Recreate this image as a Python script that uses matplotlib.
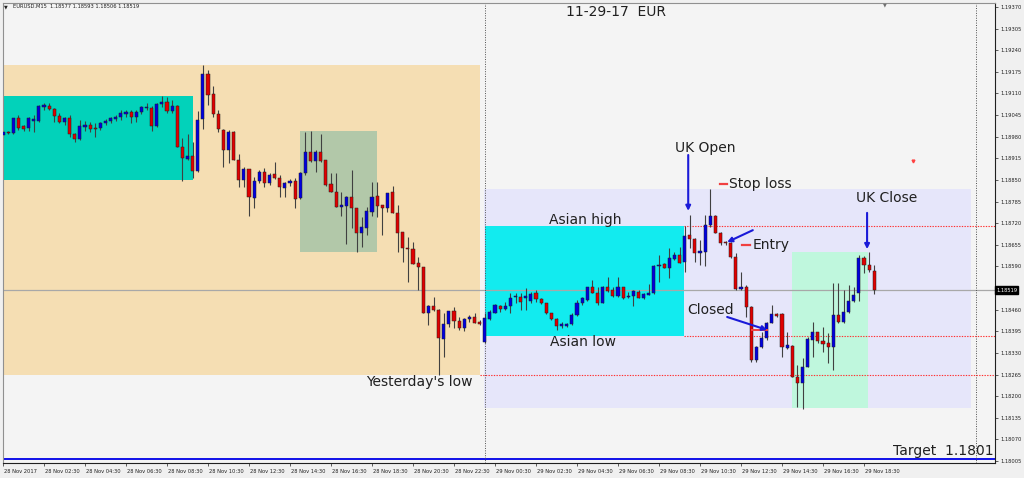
import matplotlib
matplotlib.use("Agg")
import matplotlib.pyplot as plt
from matplotlib.patches import Rectangle
import matplotlib.transforms as mtransforms
import numpy as np

# ---------------- data (EURUSD M15, bar 0 = 28 Nov 00:30) ----------------
opens = [1.18985, 1.18994, 1.18991, 1.19036, 1.19012, 1.19006, 1.19027, 1.19027, 1.19069, 1.19072,
         1.19063, 1.19042, 1.19024, 1.19036, 1.18988, 1.18973, 1.19009, 1.19015, 1.19006, 1.19006,
         1.19021, 1.19027, 1.19033, 1.19039, 1.19048, 1.19054, 1.19039, 1.19054, 1.19066, 1.19066,
         1.19012, 1.19078, 1.19084, 1.19057, 1.19072, 1.18949, 1.18913, 1.18922, 1.18877, 1.19033,
         1.19168, 1.19108, 1.19048, 1.19000, 1.18940, 1.18994, 1.18910, 1.18850, 1.18883, 1.18796,
         1.18847, 1.18874, 1.18841, 1.18868, 1.18856, 1.18826, 1.18841, 1.18847, 1.18796, 1.18871,
         1.18934, 1.18907, 1.18934, 1.18910, 1.18838, 1.18814, 1.18769, 1.18772, 1.18799, 1.18766,
         1.18690, 1.18705, 1.18754, 1.18802, 1.18775, 1.18766, 1.18814, 1.18751, 1.18693, 1.18642,
         1.18642, 1.18600, 1.18588, 1.18450, 1.18471, 1.18459, 1.18372, 1.18417, 1.18456, 1.18426,
         1.18405, 1.18432, 1.18438, 1.18423, 1.18363, 1.18432, 1.18450, 1.18471, 1.18462, 1.18471,
         1.18498, 1.18498, 1.18495, 1.18486, 1.18510, 1.18492, 1.18480, 1.18450, 1.18432, 1.18411,
         1.18411, 1.18417, 1.18444, 1.18480, 1.18489, 1.18528, 1.18510, 1.18480, 1.18528, 1.18519,
         1.18501, 1.18528, 1.18498, 1.18501, 1.18513, 1.18495, 1.18504, 1.18510, 1.18591, 1.18597,
         1.18585, 1.18612, 1.18624, 1.18603, 1.18684, 1.18672, 1.18630, 1.18633, 1.18714, 1.18742,
         1.18690, 1.18663, 1.18660, 1.18618, 1.18522, 1.18528, 1.18468, 1.18308, 1.18348, 1.18375,
         1.18420, 1.18447, 1.18447, 1.18345, 1.18351, 1.18257, 1.18239, 1.18287, 1.18369, 1.18393,
         1.18366, 1.18360, 1.18348, 1.18444, 1.18423, 1.18453, 1.18486, 1.18510, 1.18615, 1.18594,
         1.18577]
highs = [1.19000, 1.18997, 1.19037, 1.19045, 1.19015, 1.19039, 1.19045, 1.19075, 1.19081, 1.19081,
         1.19066, 1.19051, 1.19039, 1.19045, 1.18991, 1.19030, 1.19027, 1.19024, 1.19021, 1.19024,
         1.19033, 1.19039, 1.19045, 1.19060, 1.19060, 1.19060, 1.19060, 1.19072, 1.19081, 1.19072,
         1.19081, 1.19102, 1.19099, 1.19090, 1.19075, 1.18976, 1.18988, 1.18964, 1.19057, 1.19196,
         1.19181, 1.19132, 1.19060, 1.19003, 1.19000, 1.18997, 1.18928, 1.18889, 1.18883, 1.18859,
         1.18880, 1.18886, 1.18871, 1.18904, 1.18865, 1.18844, 1.18853, 1.18856, 1.18874, 1.18994,
         1.18997, 1.18940, 1.18988, 1.18910, 1.18871, 1.18871, 1.18814, 1.18802, 1.18880, 1.18766,
         1.18738, 1.18769, 1.18844, 1.18844, 1.18775, 1.18811, 1.18832, 1.18775, 1.18693, 1.18678,
         1.18663, 1.18618, 1.18588, 1.18474, 1.18498, 1.18462, 1.18450, 1.18456, 1.18468, 1.18438,
         1.18435, 1.18444, 1.18450, 1.18429, 1.18450, 1.18459, 1.18477, 1.18474, 1.18483, 1.18510,
         1.18510, 1.18510, 1.18525, 1.18513, 1.18519, 1.18495, 1.18480, 1.18450, 1.18435, 1.18423,
         1.18420, 1.18450, 1.18489, 1.18498, 1.18528, 1.18549, 1.18528, 1.18531, 1.18558, 1.18528,
         1.18558, 1.18528, 1.18513, 1.18519, 1.18519, 1.18510, 1.18537, 1.18594, 1.18624, 1.18600,
         1.18645, 1.18633, 1.18648, 1.18711, 1.18745, 1.18675, 1.18669, 1.18745, 1.18823, 1.18745,
         1.18693, 1.18666, 1.18663, 1.18630, 1.18573, 1.18534, 1.18471, 1.18351, 1.18393, 1.18423,
         1.18474, 1.18450, 1.18450, 1.18393, 1.18354, 1.18293, 1.18315, 1.18378, 1.18423, 1.18393,
         1.18408, 1.18390, 1.18540, 1.18540, 1.18519, 1.18534, 1.18528, 1.18624, 1.18621, 1.18633,
         1.18593]
lows = [1.18979, 1.18988, 1.18988, 1.19000, 1.18997, 1.18997, 1.18994, 1.19024, 1.19060, 1.19060,
        1.19024, 1.19021, 1.19015, 1.18979, 1.18964, 1.18970, 1.18997, 1.18994, 1.18979, 1.19000,
        1.19015, 1.19021, 1.19027, 1.19030, 1.19039, 1.19021, 1.19024, 1.19048, 1.19060, 1.18997,
        1.19009, 1.19069, 1.19051, 1.19051, 1.18948, 1.18847, 1.18910, 1.18856, 1.18874, 1.19003,
        1.19075, 1.19039, 1.18994, 1.18889, 1.18901, 1.18910, 1.18829, 1.18829, 1.18742, 1.18766,
        1.18841, 1.18829, 1.18835, 1.18853, 1.18799, 1.18799, 1.18832, 1.18766, 1.18793, 1.18865,
        1.18904, 1.18874, 1.18904, 1.18832, 1.18814, 1.18769, 1.18742, 1.18657, 1.18705, 1.18633,
        1.18648, 1.18684, 1.18742, 1.18738, 1.18684, 1.18754, 1.18751, 1.18633, 1.18603, 1.18543,
        1.18597, 1.18519, 1.18450, 1.18414, 1.18456, 1.18265, 1.18318, 1.18408, 1.18405, 1.18399,
        1.18396, 1.18423, 1.18420, 1.18414, 1.18360, 1.18429, 1.18450, 1.18453, 1.18459, 1.18450,
        1.18480, 1.18459, 1.18459, 1.18480, 1.18483, 1.18477, 1.18447, 1.18429, 1.18399, 1.18405,
        1.18408, 1.18414, 1.18441, 1.18474, 1.18486, 1.18510, 1.18474, 1.18480, 1.18513, 1.18498,
        1.18498, 1.18492, 1.18495, 1.18471, 1.18495, 1.18492, 1.18504, 1.18507, 1.18543, 1.18585,
        1.18555, 1.18609, 1.18600, 1.18573, 1.18645, 1.18603, 1.18594, 1.18591, 1.18708, 1.18690,
        1.18654, 1.18654, 1.18615, 1.18519, 1.18519, 1.18438, 1.18302, 1.18302, 1.18345, 1.18369,
        1.18420, 1.18438, 1.18318, 1.18342, 1.18257, 1.18167, 1.18161, 1.18287, 1.18318, 1.18360,
        1.18333, 1.18299, 1.18278, 1.18420, 1.18420, 1.18450, 1.18483, 1.18486, 1.18570, 1.18573,
        1.18506]
closes = [1.18994, 1.18990, 1.19036, 1.19006, 1.19003, 1.19036, 1.19033, 1.19072, 1.19075, 1.19063,
          1.19042, 1.19024, 1.19036, 1.18988, 1.18973, 1.19012, 1.19015, 1.19003, 1.19003, 1.19021,
          1.19027, 1.19036, 1.19039, 1.19051, 1.19054, 1.19039, 1.19054, 1.19069, 1.19069, 1.19012,
          1.19078, 1.19084, 1.19057, 1.19072, 1.18949, 1.18916, 1.18922, 1.18877, 1.19030, 1.19168,
          1.19105, 1.19048, 1.19003, 1.18940, 1.18994, 1.18910, 1.18850, 1.18883, 1.18799, 1.18847,
          1.18874, 1.18841, 1.18865, 1.18856, 1.18829, 1.18841, 1.18847, 1.18793, 1.18871, 1.18934,
          1.18907, 1.18934, 1.18907, 1.18835, 1.18814, 1.18769, 1.18775, 1.18799, 1.18766, 1.18690,
          1.18708, 1.18757, 1.18799, 1.18772, 1.18766, 1.18811, 1.18751, 1.18690, 1.18645, 1.18641,
          1.18597, 1.18588, 1.18450, 1.18471, 1.18459, 1.18375, 1.18417, 1.18456, 1.18426, 1.18405,
          1.18432, 1.18438, 1.18420, 1.18417, 1.18435, 1.18453, 1.18474, 1.18462, 1.18471, 1.18495,
          1.18501, 1.18483, 1.18501, 1.18507, 1.18492, 1.18480, 1.18450, 1.18432, 1.18411, 1.18417,
          1.18417, 1.18444, 1.18480, 1.18495, 1.18528, 1.18510, 1.18480, 1.18528, 1.18516, 1.18501,
          1.18528, 1.18495, 1.18501, 1.18516, 1.18495, 1.18507, 1.18510, 1.18591, 1.18594, 1.18585,
          1.18615, 1.18624, 1.18600, 1.18681, 1.18672, 1.18630, 1.18636, 1.18714, 1.18742, 1.18690,
          1.18660, 1.18660, 1.18618, 1.18522, 1.18528, 1.18468, 1.18308, 1.18348, 1.18375, 1.18420,
          1.18447, 1.18441, 1.18348, 1.18354, 1.18257, 1.18239, 1.18287, 1.18372, 1.18393, 1.18366,
          1.18357, 1.18348, 1.18444, 1.18423, 1.18453, 1.18486, 1.18504, 1.18615, 1.18594, 1.18579,
          1.18519]
assert len(opens) == len(highs) == len(lows) == len(closes) == 171

time_tick_bars = [0, 8, 16, 24, 32, 40, 48, 56, 64, 72, 80, 88, 96, 104, 112, 120, 128, 136, 144, 152, 160, 168]
time_tick_labels = ["28 Nov 2017", "28 Nov 02:30", "28 Nov 04:30", "28 Nov 06:30", "28 Nov 08:30",
                    "28 Nov 10:30", "28 Nov 12:30", "28 Nov 14:30", "28 Nov 16:30", "28 Nov 18:30",
                    "28 Nov 20:30", "28 Nov 22:30", "29 Nov 00:30", "29 Nov 02:30", "29 Nov 04:30",
                    "29 Nov 06:30", "29 Nov 08:30", "29 Nov 10:30", "29 Nov 12:30", "29 Nov 14:30",
                    "29 Nov 16:30", "29 Nov 18:30"]
price_ticks = [1.18005, 1.18070, 1.18135, 1.18200, 1.18265, 1.18330, 1.18395, 1.18460, 1.18525,
               1.18590, 1.18655, 1.18720, 1.18785, 1.18850, 1.18915, 1.18980, 1.19045, 1.19110,
               1.19175, 1.19240, 1.19305, 1.19370]
price_tick_labels = ["1.18005", "1.18070", "1.18135", "1.18200", "1.18265", "1.18330", "1.18395",
                     "1.18460", "", "1.18590", "1.18655", "1.18720", "1.18785", "1.18850",
                     "1.18915", "1.18980", "1.19045", "1.19110", "1.19175", "1.19240", "1.19305", "1.19370"]

current_price = 1.18519
asian_high = 1.18711
asian_low = 1.18381
yesterday_low = 1.18265
target_price = 1.1801
stop_loss = 1.18838
entry_price = 1.18654
closed_price = 1.18399

# ---------------- figure ----------------
W, H = 1024, 478
fig = plt.figure(figsize=(W / 100, H / 100), dpi=100, facecolor="#F0F0F0")
ax = fig.add_axes([3 / W, (H - 463) / H, 992 / W, 460 / H])
ax.set_facecolor("#F4F4F4")
ax.set_xlim(0, 193.56)
ax.set_ylim(1.17999, 1.19382)

# session boxes
ax.add_patch(Rectangle((-1, 1.18263), 94.07, 1.19196 - 1.18263, facecolor="#F5DEB3", edgecolor="none", zorder=0.5))
ax.add_patch(Rectangle((-1, 1.18850), 38.07, 1.19102 - 1.18850, facecolor="#02D2BA", edgecolor="none", zorder=0.6))
ax.add_patch(Rectangle((57.95, 1.18633), 15.03, 1.18997 - 1.18633, facecolor="#B2C8A9", edgecolor="none", zorder=0.6))
ax.add_patch(Rectangle((93.85, 1.18164), 94.95, 1.18823 - 1.18164, facecolor="#E6E6FA", edgecolor="none", zorder=0.5))
ax.add_patch(Rectangle((94.05, asian_low), 38.85, asian_high - asian_low, facecolor="#12EBEF", edgecolor="none", zorder=0.6))
ax.add_patch(Rectangle((153.9, 1.18164), 14.9, 1.18633 - 1.18164, facecolor="#BFF7DD", edgecolor="none", zorder=0.6))

# horizontal lines
ax.axhline(current_price, color="#A8A8A8", lw=0.9, zorder=1)
ax.axhline(target_price, color="#1010E8", lw=1.4, zorder=1)
dot = (0, (1.2, 1.2))
ax.plot([132.9, 193.6], [asian_high, asian_high], color="#FF3030", lw=0.8, ls=dot, zorder=1.2)
ax.plot([132.9, 193.6], [asian_low, asian_low], color="#FF3030", lw=0.8, ls=dot, zorder=1.2)
ax.plot([93.1, 193.6], [yesterday_low, yesterday_low], color="#FF3030", lw=0.8, ls=dot, zorder=1.2)

# vertical separators
ax.axvline(94, color="#505050", lw=0.7, ls=(0, (1, 1.5)), zorder=1)
ax.axvline(189.9, color="#505050", lw=0.7, ls=(0, (1, 1.5)), zorder=1)

# candles
idx = np.arange(len(opens))
o = np.array(opens); h = np.array(highs); l = np.array(lows); c = np.array(closes)
cols = np.where(c >= o, "#0000E0", "#E00000")
ax.vlines(idx, l, h, color="#404040", lw=0.8, zorder=2)
body_h = np.maximum(np.abs(c - o), 0.00003)
ax.bar(idx, body_h, bottom=np.minimum(o, c), width=0.62, color=cols,
       edgecolor="#202020", linewidth=0.35, zorder=3)

# markers
ax.plot([139.9, 141.3], [stop_loss, stop_loss], color="#F04040", lw=1.6, zorder=4)
ax.plot([144.2, 145.8], [entry_price, entry_price], color="#F04040", lw=1.6, zorder=4)
ax.plot([146.1, 149.1], [closed_price, closed_price], color="#F04040", lw=1.4, zorder=4)
ax.plot([177.6], [1.18907], marker="v", ms=2, color="#FF4040", zorder=4)

# arrows
aprops = dict(arrowstyle="-|>", color="#1A1AD8", lw=1.5, mutation_scale=7, shrinkA=0, shrinkB=0)
ax.annotate("", xy=(133.7, 1.18757), xytext=(133.7, 1.18925), arrowprops=aprops, zorder=5)
ax.annotate("", xy=(168.6, 1.18642), xytext=(168.6, 1.18751), arrowprops=aprops, zorder=5)
ax.annotate("", xy=(141.3, 1.18663), xytext=(146.3, 1.18699), arrowprops=aprops, zorder=5)
ax.annotate("", xy=(149.1, 1.18399), xytext=(141.3, 1.18438), arrowprops=aprops, zorder=5)

# annotation text
tk = dict(fontsize=10, color="#202020", va="center", zorder=6)
ax.text(137.0, 1.18946, "UK Open", ha="center", **tk)
ax.text(141.7, stop_loss, "Stop loss", ha="left", **tk)
ax.text(113.6, 1.18729, "Asian high", ha="center", **tk)
ax.text(146.3, entry_price, "Entry", ha="left", **tk)
ax.text(172.5, 1.18796, "UK Close", ha="center", **tk)
ax.text(138.0, 1.18459, "Closed", ha="center", **tk)
ax.text(113.2, 1.18363, "Asian low", ha="center", **tk)
ax.text(81.2, 1.18242, "Yesterday's low", ha="center", **tk)
ax.text(193.2, 1.18034, "Target  1.1801", ha="right", **tk)

# axes styling
for s in ["top", "left"]:
    ax.spines[s].set_color("#909090")
    ax.spines[s].set_linewidth(0.8)
for s in ["bottom", "right"]:
    ax.spines[s].set_color("#202020")
    ax.spines[s].set_linewidth(0.8)

ax.yaxis.tick_right()
ax.set_yticks(price_ticks)
ax.set_yticklabels(price_tick_labels)
ax.tick_params(axis="y", direction="out", length=2, width=0.5, pad=2, labelsize=3.7,
               colors="#202020", right=True, left=False)
ax.set_xticks(time_tick_bars)
ax.set_xticklabels(time_tick_labels, ha="left")
ax.tick_params(axis="x", direction="out", length=2, width=0.5, pad=2, labelsize=3.7,
               colors="#202020")
for lab in ax.get_xticklabels():
    lab.set_transform(lab.get_transform() + mtransforms.ScaledTranslation(0.5 / 100, 0, fig.dpi_scale_trans))

# current price label
trans = mtransforms.blended_transform_factory(ax.transAxes, ax.transData)
ax.text(1.001, current_price, "1.18519", transform=trans, fontsize=3.7, color="white",
        va="center", ha="left", clip_on=False, zorder=7,
        bbox=dict(boxstyle="square,pad=0.25", facecolor="black", edgecolor="black"))

# header & title
fig.text(4 / W, 1 - 7 / H, "▼", fontsize=3.5, color="#202020", va="center", ha="left")
fig.text(13 / W, 1 - 7 / H, "EURUSD.M15  1.18577 1.18593 1.18506 1.18519", fontsize=3.7,
         color="#202020", va="center", ha="left")
fig.text(616 / W, 1 - 12 / H, "11-29-17  EUR", fontsize=10, color="#202020", va="center", ha="center")
fig.text(885 / W, 1 - 5 / H, "▼", fontsize=3.5, color="#707070", va="center", ha="center")

fig.savefig("out.png", dpi=100, facecolor=fig.get_facecolor())
